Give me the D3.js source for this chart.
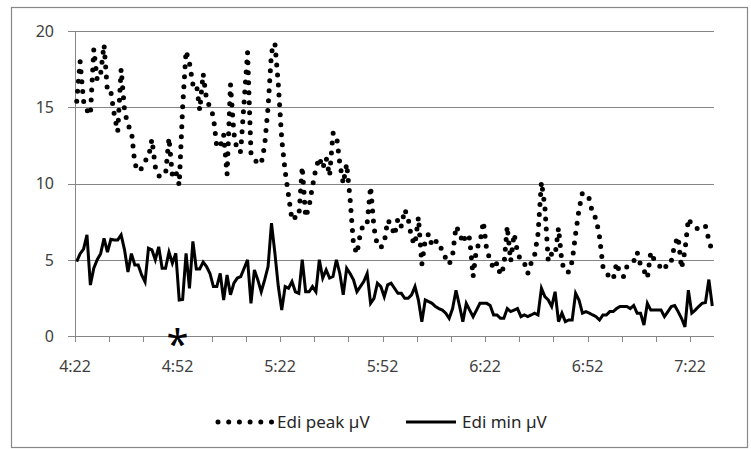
<!DOCTYPE html>
<html>
<head>
<meta charset="utf-8">
<script src="https://cdn.jsdelivr.net/npm/d3@7/dist/d3.min.js"></script>
<style>
body{margin:0;background:#fff}
text{font-family:"Noto Sans",sans-serif}
</style>
</head>
<body>
<svg id="chart" width="751" height="449"></svg>
<script>
// one value per minute, starting 4:22
const ediPeak = [
  15.4,18.0,15.4,14.8,14.5,18.8,16.8,17.2,19.1,16.0,
  16.0,14.5,13.4,17.5,14.8,13.8,13.5,11.3,10.8,11.0,
  11.5,11.7,12.9,11.1,10.5,10.5,10.6,13.0,10.5,10.8,
  9.9,15.0,18.7,17.9,16.5,16.6,14.8,17.2,15.5,15.0,
  14.4,12.4,12.4,13.2,10.6,16.5,13.3,
  12.1,12.1,15.4,18.6,12.0,11.6,11.3,11.3,12.5,15.0,
  18.6,19.2,16.5,12.9,10.8,9.2,7.6,7.8,7.8,11.1,
  7.8,8.5,9.8,11.0,11.7,11.0,11.7,10.5,13.3,13.2,
  11.3,10.0,11.3,9.0,6.0,5.4,6.7,7.4,7.4,9.8,
  7.1,5.9,5.8,6.1,7.6,7.3,6.6,
  7.7,7.2,8.3,7.7,6.4,6.0,7.8,4.7,6.3,6.7,
  5.9,6.2,6.2,5.5,5.1,4.7,5.3,7.2,6.8,6.1,
  6.7,6.4,3.9,5.75,6.1,7.5,5.6,5.0,4.4,4.8,
  4.0,4.55,7.2,4.9,6.7,5.5,4.9,4.8,4.1,4.8,
  5.3,6.7,10.1,8.5,4.9,5.4,
  5.3,7.1,4.8,4.2,4.2,4.9,6.7,8.3,9.4,9.2,
  9.0,8.0,7.7,6.5,4.55,4.1,3.9,3.7,4.8,4.1,
  3.9,4.55,4.7,4.9,5.5,4.66,4.3,3.8,5.5,5.0,
  4.8,4.44,4.33,4.9,4.9,6.0,6.5,4.44,5.6,7.7,
  7.3,7.1,7.0,7.0,7.2,6.3,5.5
]
const ediMin = [
  4.88,5.4,5.7,6.63,3.34,4.45,5.0,5.4,6.4,5.5,
  6.34,6.3,6.3,6.63,5.65,4.2,5.4,4.66,4.66,4.0,
  3.55,5.75,5.65,5.0,5.85,4.44,4.44,5.5,4.77,5.42,
  2.36,2.4,5.42,3.13,6.2,4.4,4.4,4.85,
  4.55,4.1,3.24,3.24,4.1,2.36,4.0,2.7,3.46,
  3.8,3.9,4.44,5.0,2.14,4.33,3.68,2.9,3.68,4.55,
  7.4,5.43,3.24,1.7,3.24,3.13,3.57,2.9,2.8,5.0,
  2.9,2.9,3.24,2.9,5.0,3.8,4.33,3.8,3.9,5.0,
  4.1,2.7,4.44,4.1,3.68,2.9,3.24,3.57,4.1,2.14,
  2.47,3.46,3.24,2.58,3.35,3.46,3.13,
  2.8,2.8,2.47,2.47,2.7,3.24,2.36,0.94,2.36,2.25,
  2.14,1.93,1.8,1.7,1.5,1.16,1.8,3.0,2.0,0.94,
  2.14,1.7,1.27,1.7,2.14,2.14,2.14,2.0,1.38,1.38,
  1.16,1.16,1.8,1.6,1.7,1.8,1.27,1.38,1.27,1.38,
  1.5,1.38,3.13,2.58,2.36,1.93,
  2.9,0.94,1.5,0.94,1.05,1.05,2.8,2.36,1.5,1.6,
  1.5,1.38,1.27,1.05,1.38,1.38,1.6,1.6,1.8,1.93,
  1.93,1.93,1.8,2.0,1.5,1.5,0.72,2.14,1.7,1.7,
  1.7,1.7,1.27,1.6,1.93,2.0,1.6,1.16,0.6,3.0,
  1.5,1.7,1.93,2.14,2.2,3.7,1.97
]
const timeLabels = ["4:22","4:52","5:22","5:52","6:22","6:52","7:22"]
const labelEvery = 30
const tickEvery = 10
const yTicks = [0,5,10,15,20]
const seriesNames = ["Edi peak µV","Edi min µV"]
const markIndex = 30   // the "*" under 4:52

const svg = d3.select('#chart')
const plot = {left:75,right:714,top:31,bottom:336}
const gridColor = '#868686'

const x = d3.scaleBand()
    .domain(d3.range(ediPeak.length))
    .range([plot.left,plot.right])
    .paddingInner(0)
const y = d3.scaleLinear()
    .domain([0,20])
    .range([plot.bottom,plot.top])

// chart border
svg.append('rect')
    .attr('x',11.5)
    .attr('y',7.5)
    .attr('width',736)
    .attr('height',440)
    .attr('fill','#fff')
    .attr('stroke','#888')
    .attr('stroke-width',1.2)

function drawAxes(g){
    // gridlines + y ticks
    yTicks.forEach(t => {
        if(t > 0){
            g.append('line')
            .attr('x1',plot.left)
            .attr('x2',plot.right)
            .attr('y1',Math.round(y(t)) + 0.5)
            .attr('y2',Math.round(y(t)) + 0.5)
            .attr('stroke',gridColor)
            .attr('stroke-width',1)
        }
        g.append('line')
        .attr('x1',plot.left - 7)
        .attr('x2',plot.left)
        .attr('y1',Math.round(y(t)) + 0.5)
        .attr('y2',Math.round(y(t)) + 0.5)
        .attr('stroke',gridColor)
        g.append('text')
        .attr('x',54)
        .attr('y',y(t))
        .attr('dy','0.36em')
        .attr('text-anchor','end')
        .attr('fill','#404040')
        .attr('font-size','16px')
        .text(t)
    })

    g.append('line')
    .attr('x1',plot.left + 0.5)
    .attr('x2',plot.left + 0.5)
    .attr('y1',plot.top)
    .attr('y2',plot.bottom)
    .attr('stroke',gridColor)
    g.append('line')
    .attr('x1',plot.left)
    .attr('x2',plot.right)
    .attr('y1',plot.bottom + 0.5)
    .attr('y2',plot.bottom + 0.5)
    .attr('stroke',gridColor)

    for(let i = 0;i < ediPeak.length;i += tickEvery){
        g.append('line')
        .attr('x1',Math.round(x(i)) + 0.5)
        .attr('x2',Math.round(x(i)) + 0.5)
        .attr('y1',plot.bottom)
        .attr('y2',plot.bottom + 6)
        .attr('stroke',gridColor)
    }
    timeLabels.forEach((lab,k) => {
        g.append('text')
        .attr('x',x(k * labelEvery))
        .attr('y',plot.bottom + 36)
        .attr('text-anchor','middle')
        .attr('fill','#404040')
        .attr('font-size','16px')
        .text(lab)
    })
}

function drawSeries(g){
    const bw = x.bandwidth() / 2
    const line = d3.line()
        .x((d,i) => x(i) + bw)
        .y(d => y(d))

    g.append('path')
    .datum(ediMin)
    .attr('d',line)
    .attr('fill','none')
    .attr('stroke','#000')
    .attr('stroke-width',3)
    .attr('stroke-linejoin','miter')

    g.append('path')
    .datum(ediPeak)
    .attr('d',line)
    .attr('fill','none')
    .attr('stroke','#000')
    .attr('stroke-width',5)
    .attr('stroke-linecap','round')
    .attr('stroke-dasharray','0,10')

    g.append('text')
    .attr('x',x(markIndex))
    .attr('y',plot.bottom + 22)
    .attr('text-anchor','middle')
    .attr('fill','#000')
    .attr('font-size','40px')
    .attr('font-family','DejaVu Sans')
    .text('*')
}

function drawLegend(g){
    const ly = 422
    g.append('line')
    .attr('x1',218).attr('x2',273)
    .attr('y1',ly).attr('y2',ly)
    .attr('stroke','#000')
    .attr('stroke-width',5)
    .attr('stroke-linecap','round')
    .attr('stroke-dasharray','0,10.7')
    g.append('text')
    .attr('x',277).attr('y',ly).attr('dy','0.35em')
    .attr('fill','#262626')
    .attr('font-size','17px')
    .text(seriesNames[0])

    g.append('line')
    .attr('x1',406).attr('x2',456)
    .attr('y1',ly).attr('y2',ly)
    .attr('stroke','#000')
    .attr('stroke-width',3)
    g.append('text')
    .attr('x',462).attr('y',ly).attr('dy','0.35em')
    .attr('fill','#262626')
    .attr('font-size','17px')
    .text(seriesNames[1])
}

const g = svg.append('g')
drawAxes(g)
drawSeries(g)
drawLegend(g)
</script>
</body>
</html>
